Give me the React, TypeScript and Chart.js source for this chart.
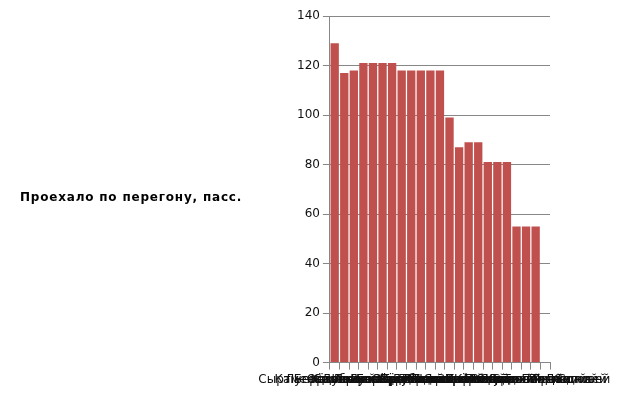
import React, { useEffect, useRef } from "react";
import { Chart, registerables } from "chart.js";

Chart.register(...registerables);

const categories: string[] = [
  "Сырт — Каменный Брод",
  "Каменка — Луговская",
  "Луговая — Берёзовка",
  "Берёзовка — Орловка",
  "Орловка — Сосновка",
  "Сосновка — Дубровка",
  "Дубровка — Ивановка",
  "Ивановка — Покровка",
  "Покровка — Никольское",
  "Никольское — Озёрки",
  "Озёрки — Заречье",
  "Заречье — Гремячий",
  "Гремячий — Полевая",
  "Полевая — Рощино",
  "Рощино — Кленовая",
  "Кленовая — Садовая",
  "Садовая — Ясная Поляна",
  "Ясная Поляна — Липки",
  "Липки — Тихий Дол",
  "Тихий Дол — Крайний",
  "Крайний — Последний",
  "Последний — Соловей",
  "Журавли — Соловей",
];

const passengers: (number | null)[] = [
  129, 117, 118, 121, 121, 121, 121, 118, 118, 118, 118, 118, 99,
  87, 89, 89, 81, 81, 81, 55, 55, 55, null,
];

const yTicks = { min: 0, max: 140, step: 20 };
const yTitle = "Проехало по перегону, пасс.";

const GRID = "#878787";
const FONT = "'DejaVu Sans', sans-serif";

export default function App() {
  const ref = useRef<HTMLCanvasElement | null>(null);

  useEffect(() => {
    if (!ref.current) return;
    const titlePlugin = {
      id: "hTitle",
      afterDraw(chart: any) {
        const ctx = chart.ctx;
        const area = chart.chartArea;
        ctx.save();
        ctx.font = `bold 12px ${FONT}`;
        ctx.fillStyle = "#000";
        ctx.textAlign = "left";
        ctx.textBaseline = "middle";
        try {
          (ctx as any).letterSpacing = "0.8px";
        } catch (e) {}
        ctx.fillText(yTitle, 20, (area.top + area.bottom) / 2 + 9);
        ctx.restore();
      },
    };
    const chart = new Chart(ref.current, {
      type: "bar",
      data: {
        labels: categories,
        datasets: [
          {
            label: yTitle,
            data: passengers,
            backgroundColor: "#C0504D",
            borderWidth: 0,
            categoryPercentage: 1,
            barPercentage: 0.87,
          },
        ],
      },
      options: {
        responsive: false,
        animation: false,
        layout: { padding: { left: 294, right: 73, top: 16, bottom: 5 } },
        plugins: { legend: { display: false }, tooltip: { enabled: false } },
        scales: {
          x: {
            offset: true,
            grid: {
              drawOnChartArea: false,
              color: GRID,
              tickLength: 7,
              offset: true,
            },
            border: { color: GRID },
            ticks: {
              autoSkip: false,
              maxRotation: 0,
              minRotation: 0,
              color: "#111",
              padding: 3,
              font: { family: FONT, size: 12 },
            },
          },
          y: {
            min: yTicks.min,
            max: yTicks.max,
            grid: { color: GRID, tickLength: 7 },
            border: { color: GRID },
            ticks: {
              stepSize: yTicks.step,
              color: "#111",
              padding: 3,
              font: { family: FONT, size: 12 },
            },
          },
        },
      },
      plugins: [titlePlugin],
    });
    return () => chart.destroy();
  }, []);

  return (
    <div style={{ position: "fixed", left: 0, top: 0, width: 623, height: 395, background: "#fff" }}>
      <canvas ref={ref} width={623} height={395} />
    </div>
  );
}
